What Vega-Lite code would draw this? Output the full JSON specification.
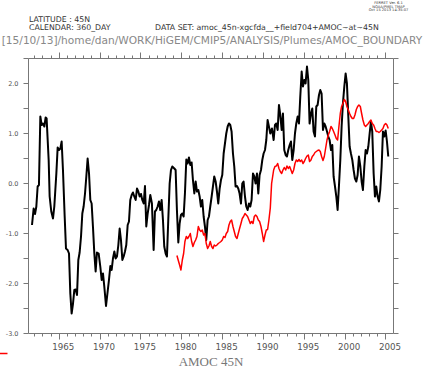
{
  "$schema": "https://vega.github.io/schema/vega-lite/v6.json",
  "width": 365,
  "height": 275,
  "autosize": "none",
  "padding": {"left": 28, "top": 58, "right": 35, "bottom": 41},
  "background": "white",
  "config": {
    "view": {"stroke": null},
    "axis": {"grid": false, "domainColor": "#777", "tickColor": "#777", "domainWidth": 1, "tickWidth": 1, "labelColor": "#555", "labelFont": "DejaVu Sans", "labelOverlap": false, "labelFlush": false}
  },
  "title": {
    "text": ["\u200b\u00a0\u00a0\u00a0\u00a0\u00a0\u00a0\u00a0\u00a0\u00a0\u00a0\u00a0LATITUDE : 45N", "\u200b\u00a0\u00a0\u00a0\u00a0\u00a0\u00a0\u00a0\u00a0\u00a0\u00a0\u00a0CALENDAR: 360_DAY\u00a0\u00a0\u00a0\u00a0\u00a0\u00a0\u00a0\u00a0\u00a0\u00a0\u00a0\u00a0\u00a0\u00a0\u00a0\u00a0\u00a0\u00a0DATA SET: amoc_45n-xgcfda__+field704+AMOC~at~45N"],
    "subtitle": "[15/10/13]/home/dan/WORK/HiGEM/CMIP5/ANALYSIS/Plumes/AMOC_BOUNDARY",
    "anchor": "start",
    "frame": "group",
    "dx": -26.3,
    "offset": -46,
    "font": "DejaVu Sans",
    "fontSize": 7.8,
    "fontWeight": "normal",
    "color": "#333",
    "lineHeight": 8.5,
    "subtitleFont": "DejaVu Sans",
    "subtitleFontSize": 10.6,
    "subtitleColor": "#888",
    "subtitlePadding": 4
  },
  "resolve": {"axis": {"x": "independent", "y": "independent"}},
  "layer": [
    {
      "data": {"values": [
        {"year": 1961.73, "value": -0.84}, {"year": 1961.93, "value": -0.51}, {"year": 1962.10, "value": -0.62}, {"year": 1962.26, "value": -0.47},
        {"year": 1962.42, "value": -0.07}, {"year": 1962.58, "value": -0.04}, {"year": 1962.75, "value": 1.33}, {"year": 1962.91, "value": 1.16},
        {"year": 1963.07, "value": 1.19}, {"year": 1963.24, "value": 1.13}, {"year": 1963.40, "value": 1.31}, {"year": 1963.52, "value": 1.29},
        {"year": 1963.77, "value": 0.46}, {"year": 1963.89, "value": -0.27}, {"year": 1964.09, "value": -0.57}, {"year": 1964.30, "value": -0.71},
        {"year": 1964.46, "value": -0.47}, {"year": 1964.71, "value": 0.19}, {"year": 1964.87, "value": 0.71}, {"year": 1965.03, "value": 0.66},
        {"year": 1965.20, "value": 0.69}, {"year": 1965.36, "value": 0.83}, {"year": 1965.52, "value": 0.26}, {"year": 1965.73, "value": -0.67},
        {"year": 1965.89, "value": -1.31}, {"year": 1966.09, "value": -1.34}, {"year": 1966.26, "value": -1.41}, {"year": 1966.42, "value": -2.21},
        {"year": 1966.58, "value": -2.61}, {"year": 1966.75, "value": -2.41}, {"year": 1966.91, "value": -2.14}, {"year": 1967.07, "value": -2.13},
        {"year": 1967.24, "value": -2.24}, {"year": 1967.40, "value": -1.54}, {"year": 1967.56, "value": -1.39}, {"year": 1967.73, "value": -1.07},
        {"year": 1967.89, "value": -0.61}, {"year": 1968.05, "value": -0.47}, {"year": 1968.22, "value": -0.21}, {"year": 1968.38, "value": 0.13},
        {"year": 1968.54, "value": 0.49}, {"year": 1968.71, "value": 0.19}, {"year": 1968.87, "value": -0.34}, {"year": 1969.03, "value": -0.41},
        {"year": 1969.19, "value": -0.87}, {"year": 1969.36, "value": -1.41}, {"year": 1969.52, "value": -1.77}, {"year": 1969.68, "value": -1.39},
        {"year": 1969.89, "value": -1.41}, {"year": 1970.09, "value": -1.67}, {"year": 1970.26, "value": -1.94}, {"year": 1970.42, "value": -1.81},
        {"year": 1970.58, "value": -2.07}, {"year": 1970.79, "value": -2.46}, {"year": 1970.99, "value": -2.17}, {"year": 1971.15, "value": -1.94},
        {"year": 1971.32, "value": -1.66}, {"year": 1971.48, "value": -1.74}, {"year": 1971.64, "value": -1.51}, {"year": 1971.81, "value": -1.37},
        {"year": 1971.97, "value": -1.51}, {"year": 1972.13, "value": -1.47}, {"year": 1972.30, "value": -1.24}, {"year": 1972.46, "value": -0.91},
        {"year": 1972.62, "value": -1.14}, {"year": 1972.79, "value": -1.54}, {"year": 1972.95, "value": -1.47}, {"year": 1973.11, "value": -1.37},
        {"year": 1973.27, "value": -1.24}, {"year": 1973.44, "value": -0.84}, {"year": 1973.60, "value": -0.77}, {"year": 1973.76, "value": -0.34},
        {"year": 1973.93, "value": -0.24}, {"year": 1974.09, "value": -0.19}, {"year": 1974.25, "value": -0.27}, {"year": 1974.42, "value": -0.34},
        {"year": 1974.58, "value": -0.11}, {"year": 1974.74, "value": -0.17}, {"year": 1974.91, "value": -0.27}, {"year": 1975.07, "value": -0.22},
        {"year": 1975.23, "value": -0.34}, {"year": 1975.40, "value": -0.41}, {"year": 1975.56, "value": -0.06}, {"year": 1975.72, "value": -0.87},
        {"year": 1975.89, "value": -0.61}, {"year": 1976.05, "value": -0.44}, {"year": 1976.21, "value": -0.24}, {"year": 1976.41, "value": -0.41},
        {"year": 1976.62, "value": -1.34}, {"year": 1976.78, "value": -0.57}, {"year": 1976.94, "value": -0.54}, {"year": 1977.11, "value": -0.47},
        {"year": 1977.27, "value": -0.37}, {"year": 1977.43, "value": -0.54}, {"year": 1977.60, "value": -0.34}, {"year": 1977.76, "value": -0.74},
        {"year": 1977.92, "value": -1.27}, {"year": 1978.09, "value": -1.41}, {"year": 1978.25, "value": -1.47}, {"year": 1978.41, "value": -0.74},
        {"year": 1978.58, "value": -0.01}, {"year": 1978.74, "value": 0.26}, {"year": 1978.90, "value": 0.33}, {"year": 1979.15, "value": 0.29},
        {"year": 1979.31, "value": 0.26}, {"year": 1979.47, "value": -0.54}, {"year": 1979.64, "value": -1.19}, {"year": 1979.80, "value": -0.81},
        {"year": 1979.96, "value": -0.64}, {"year": 1980.13, "value": -0.61}, {"year": 1980.29, "value": -0.67}, {"year": 1980.45, "value": -0.21},
        {"year": 1980.62, "value": 0.47}, {"year": 1980.78, "value": 0.39}, {"year": 1980.94, "value": 0.51}, {"year": 1981.11, "value": 0.36},
        {"year": 1981.27, "value": 0.41}, {"year": 1981.43, "value": 0.06}, {"year": 1981.60, "value": -0.21}, {"year": 1981.76, "value": 0.03},
        {"year": 1981.92, "value": -0.17}, {"year": 1982.09, "value": -0.14}, {"year": 1982.25, "value": -0.27}, {"year": 1982.41, "value": -0.47},
        {"year": 1982.57, "value": -0.34}, {"year": 1982.74, "value": -0.67}, {"year": 1982.90, "value": -0.87}, {"year": 1983.06, "value": -1.14},
        {"year": 1983.23, "value": -0.74}, {"year": 1983.39, "value": -0.67}, {"year": 1983.55, "value": -0.47}, {"year": 1983.72, "value": -0.27},
        {"year": 1983.88, "value": -0.07}, {"year": 1984.04, "value": 0.13}, {"year": 1984.21, "value": 0.03}, {"year": 1984.37, "value": -0.17},
        {"year": 1984.53, "value": -0.41}, {"year": 1984.70, "value": -0.11}, {"year": 1984.86, "value": 0.06}, {"year": 1985.02, "value": 0.16},
        {"year": 1985.19, "value": 0.59}, {"year": 1985.35, "value": 0.79}, {"year": 1985.51, "value": 0.99}, {"year": 1985.68, "value": 1.13},
        {"year": 1985.84, "value": 1.19}, {"year": 1986.00, "value": 1.16}, {"year": 1986.16, "value": 1.03}, {"year": 1986.33, "value": 0.59},
        {"year": 1986.49, "value": 0.33}, {"year": 1986.65, "value": -0.07}, {"year": 1986.82, "value": -0.06}, {"year": 1986.98, "value": -0.11},
        {"year": 1987.14, "value": -0.21}, {"year": 1987.31, "value": -0.41}, {"year": 1987.47, "value": -0.01}, {"year": 1987.63, "value": 0.03},
        {"year": 1987.80, "value": -0.27}, {"year": 1987.96, "value": -0.47}, {"year": 1988.12, "value": -0.54}, {"year": 1988.29, "value": -0.41},
        {"year": 1988.45, "value": -0.47}, {"year": 1988.61, "value": -0.34}, {"year": 1988.78, "value": 0.19}, {"year": 1988.94, "value": 0.13},
        {"year": 1989.10, "value": -0.01}, {"year": 1989.27, "value": 0.19}, {"year": 1989.43, "value": -0.21}, {"year": 1989.59, "value": 0.16},
        {"year": 1989.76, "value": 0.26}, {"year": 1989.92, "value": 0.46}, {"year": 1990.08, "value": 0.59}, {"year": 1990.25, "value": 0.66},
        {"year": 1990.41, "value": 0.86}, {"year": 1990.57, "value": 1.26}, {"year": 1990.73, "value": 1.13}, {"year": 1990.90, "value": 0.99},
        {"year": 1991.10, "value": 1.09}, {"year": 1991.31, "value": 0.86}, {"year": 1991.47, "value": 1.16}, {"year": 1991.63, "value": 1.19},
        {"year": 1991.80, "value": 1.06}, {"year": 1991.96, "value": 1.56}, {"year": 1992.12, "value": 1.36}, {"year": 1992.29, "value": 1.06},
        {"year": 1992.45, "value": 1.39}, {"year": 1992.61, "value": 0.66}, {"year": 1992.78, "value": 0.56}, {"year": 1992.94, "value": 0.53},
        {"year": 1993.10, "value": 0.66}, {"year": 1993.27, "value": 0.76}, {"year": 1993.43, "value": 0.83}, {"year": 1993.59, "value": 0.46},
        {"year": 1993.76, "value": 0.66}, {"year": 1993.92, "value": 0.99}, {"year": 1994.08, "value": 1.19}, {"year": 1994.25, "value": 1.33},
        {"year": 1994.41, "value": 1.19}, {"year": 1994.57, "value": 1.73}, {"year": 1994.74, "value": 2.23}, {"year": 1994.90, "value": 1.93},
        {"year": 1995.06, "value": 2.06}, {"year": 1995.22, "value": 1.99}, {"year": 1995.39, "value": 2.33}, {"year": 1995.55, "value": 2.06},
        {"year": 1995.71, "value": 1.19}, {"year": 1995.88, "value": 1.39}, {"year": 1996.04, "value": 1.49}, {"year": 1996.20, "value": 1.03},
        {"year": 1996.37, "value": 0.93}, {"year": 1996.53, "value": 1.53}, {"year": 1996.69, "value": 1.56}, {"year": 1996.86, "value": 1.76},
        {"year": 1997.02, "value": 1.86}, {"year": 1997.18, "value": 1.79}, {"year": 1997.35, "value": 1.06}, {"year": 1997.51, "value": 1.19},
        {"year": 1997.67, "value": 1.13}, {"year": 1997.84, "value": 1.03}, {"year": 1998.00, "value": 0.93}, {"year": 1998.16, "value": 0.86},
        {"year": 1998.33, "value": 0.66}, {"year": 1998.49, "value": 0.76}, {"year": 1998.65, "value": 0.13}, {"year": 1998.82, "value": -0.07},
        {"year": 1998.98, "value": -0.27}, {"year": 1999.14, "value": -0.54}, {"year": 1999.30, "value": -0.07}, {"year": 1999.47, "value": 0.46},
        {"year": 1999.63, "value": 1.13}, {"year": 1999.79, "value": 1.59}, {"year": 1999.96, "value": 1.93}, {"year": 2000.12, "value": 2.19},
        {"year": 2000.28, "value": 1.99}, {"year": 2000.45, "value": 1.33}, {"year": 2000.61, "value": 0.73}, {"year": 2000.77, "value": 0.59},
        {"year": 2000.94, "value": 0.46}, {"year": 2001.10, "value": 0.26}, {"year": 2001.26, "value": 0.09}, {"year": 2001.43, "value": 0.03},
        {"year": 2001.59, "value": 0.16}, {"year": 2001.75, "value": 0.53}, {"year": 2001.92, "value": 0.33}, {"year": 2002.08, "value": 0.03},
        {"year": 2002.24, "value": -0.14}, {"year": 2002.41, "value": 0.33}, {"year": 2002.57, "value": 0.66}, {"year": 2002.73, "value": 0.59},
        {"year": 2002.90, "value": 0.73}, {"year": 2003.06, "value": 0.99}, {"year": 2003.22, "value": 1.23}, {"year": 2003.38, "value": 1.03},
        {"year": 2003.55, "value": 0.19}, {"year": 2003.71, "value": -0.27}, {"year": 2003.87, "value": -0.07}, {"year": 2004.04, "value": -0.27},
        {"year": 2004.20, "value": -0.37}, {"year": 2004.36, "value": -0.14}, {"year": 2004.53, "value": 0.33}, {"year": 2004.69, "value": 1.03},
        {"year": 2004.85, "value": 0.93}, {"year": 2005.02, "value": 1.05}, {"year": 2005.18, "value": 0.83}, {"year": 2005.34, "value": 0.53}
      ]},
      "mark": {"type": "line", "color": "#000000", "strokeWidth": 2, "strokeJoin": "round", "clip": true},
      "encoding": {
        "x": {
          "field": "year", "type": "quantitative",
          "scale": {"domain": [1961.24, 2005.92], "nice": false, "zero": false},
          "axis": {
            "orient": "bottom",
            "values": [1962, 1963, 1964, 1965, 1966, 1967, 1968, 1969, 1970, 1971, 1972, 1973, 1974, 1975, 1976, 1977, 1978, 1979, 1980, 1981, 1982, 1983, 1984, 1985, 1986, 1987, 1988, 1989, 1990, 1991, 1992, 1993, 1994, 1995, 1996, 1997, 1998, 1999, 2000, 2001, 2002, 2003, 2004, 2005],
            "labelExpr": "datum.value % 5 === 0 ? '' + datum.value : ''",
            "tickSize": {"condition": {"test": "datum.value % 5 === 0", "value": 6}, "value": 3},
            "labelFontSize": 8.7,
            "labelPadding": 3,
            "labelOffset": 4,
            "title": "AMOC 45N",
            "titleFont": "Liberation Serif",
            "titleFontSize": 13,
            "titleFontWeight": "normal",
            "titleColor": "#777",
            "titlePadding": 5
          }
        },
        "y": {
          "field": "value", "type": "quantitative",
          "scale": {"domain": [-3, 2.5], "nice": false, "zero": false},
          "axis": {
            "orient": "left",
            "values": [-3, -2.5, -2, -1.5, -1, -0.5, 0, 0.5, 1, 1.5, 2, 2.5],
            "labelExpr": "datum.value % 1 === 0 ? (datum.value < 0 ? '-' : '') + format(abs(datum.value), '.1f') : ''",
            "tickSize": 5,
            "labelFontSize": 6.5,
            "labelPadding": 5,
            "title": null
          }
        }
      }
    },
    {
      "data": {"values": [
        {"year": 1979.47, "value": -1.45}, {"year": 1979.64, "value": -1.55}, {"year": 1979.80, "value": -1.64}, {"year": 1979.96, "value": -1.74},
        {"year": 1980.13, "value": -1.54}, {"year": 1980.29, "value": -1.41}, {"year": 1980.45, "value": -1.17}, {"year": 1980.62, "value": -1.07},
        {"year": 1980.78, "value": -1.11}, {"year": 1980.94, "value": -1.07}, {"year": 1981.11, "value": -1.01}, {"year": 1981.27, "value": -1.17},
        {"year": 1981.43, "value": -1.27}, {"year": 1981.60, "value": -1.19}, {"year": 1981.76, "value": -1.14}, {"year": 1981.92, "value": -1.07},
        {"year": 1982.09, "value": -0.87}, {"year": 1982.25, "value": -0.94}, {"year": 1982.41, "value": -0.97}, {"year": 1982.57, "value": -0.94},
        {"year": 1982.74, "value": -1.04}, {"year": 1982.90, "value": -1.01}, {"year": 1983.06, "value": -1.21}, {"year": 1983.23, "value": -1.31},
        {"year": 1983.39, "value": -1.26}, {"year": 1983.55, "value": -1.17}, {"year": 1983.72, "value": -1.27}, {"year": 1983.88, "value": -1.31},
        {"year": 1984.04, "value": -1.24}, {"year": 1984.21, "value": -1.26}, {"year": 1984.37, "value": -1.24}, {"year": 1984.53, "value": -1.21},
        {"year": 1984.70, "value": -1.19}, {"year": 1984.86, "value": -1.17}, {"year": 1985.02, "value": -1.14}, {"year": 1985.19, "value": -1.07},
        {"year": 1985.35, "value": -1.09}, {"year": 1985.51, "value": -1.01}, {"year": 1985.68, "value": -0.97}, {"year": 1985.84, "value": -0.84},
        {"year": 1986.00, "value": -0.77}, {"year": 1986.16, "value": -0.74}, {"year": 1986.33, "value": -0.87}, {"year": 1986.49, "value": -0.97},
        {"year": 1986.65, "value": -1.07}, {"year": 1986.82, "value": -1.11}, {"year": 1986.98, "value": -1.01}, {"year": 1987.14, "value": -0.91},
        {"year": 1987.31, "value": -0.81}, {"year": 1987.47, "value": -0.71}, {"year": 1987.63, "value": -0.67}, {"year": 1987.80, "value": -0.61},
        {"year": 1987.96, "value": -0.64}, {"year": 1988.12, "value": -0.67}, {"year": 1988.29, "value": -0.74}, {"year": 1988.45, "value": -0.81},
        {"year": 1988.61, "value": -0.77}, {"year": 1988.78, "value": -0.81}, {"year": 1988.94, "value": -0.67}, {"year": 1989.10, "value": -0.64},
        {"year": 1989.27, "value": -0.67}, {"year": 1989.43, "value": -0.74}, {"year": 1989.59, "value": -0.77}, {"year": 1989.76, "value": -0.87},
        {"year": 1989.92, "value": -1.01}, {"year": 1990.08, "value": -1.17}, {"year": 1990.25, "value": -1.04}, {"year": 1990.41, "value": -0.94},
        {"year": 1990.57, "value": -0.93}, {"year": 1990.73, "value": -0.74}, {"year": 1990.90, "value": -0.5}, {"year": 1991.06, "value": -0.01},
        {"year": 1991.31, "value": 0.26}, {"year": 1991.47, "value": 0.33}, {"year": 1991.63, "value": 0.34}, {"year": 1991.80, "value": 0.39},
        {"year": 1991.96, "value": 0.29}, {"year": 1992.12, "value": 0.23}, {"year": 1992.29, "value": 0.19}, {"year": 1992.45, "value": 0.26},
        {"year": 1992.61, "value": 0.31}, {"year": 1992.78, "value": 0.26}, {"year": 1992.94, "value": 0.34}, {"year": 1993.10, "value": 0.29},
        {"year": 1993.27, "value": 0.33}, {"year": 1993.43, "value": 0.26}, {"year": 1993.59, "value": 0.19}, {"year": 1993.76, "value": 0.26},
        {"year": 1993.92, "value": 0.39}, {"year": 1994.08, "value": 0.46}, {"year": 1994.25, "value": 0.43}, {"year": 1994.41, "value": 0.47},
        {"year": 1994.57, "value": 0.43}, {"year": 1994.74, "value": 0.46}, {"year": 1994.90, "value": 0.39}, {"year": 1995.06, "value": 0.43},
        {"year": 1995.22, "value": 0.49}, {"year": 1995.39, "value": 0.54}, {"year": 1995.55, "value": 0.56}, {"year": 1995.71, "value": 0.43},
        {"year": 1995.88, "value": 0.46}, {"year": 1996.04, "value": 0.53}, {"year": 1996.20, "value": 0.56}, {"year": 1996.37, "value": 0.61},
        {"year": 1996.53, "value": 0.63}, {"year": 1996.69, "value": 0.65}, {"year": 1996.86, "value": 0.66}, {"year": 1997.02, "value": 0.63},
        {"year": 1997.18, "value": 0.53}, {"year": 1997.35, "value": 0.45}, {"year": 1997.51, "value": 0.53}, {"year": 1997.67, "value": 0.69},
        {"year": 1997.84, "value": 0.86}, {"year": 1998.00, "value": 0.96}, {"year": 1998.16, "value": 1.03}, {"year": 1998.33, "value": 1.13},
        {"year": 1998.49, "value": 1.09}, {"year": 1998.65, "value": 1.03}, {"year": 1998.82, "value": 0.96}, {"year": 1998.98, "value": 0.89},
        {"year": 1999.14, "value": 0.86}, {"year": 1999.30, "value": 1.13}, {"year": 1999.47, "value": 1.39}, {"year": 1999.63, "value": 1.53},
        {"year": 1999.79, "value": 1.59}, {"year": 1999.96, "value": 1.67}, {"year": 2000.12, "value": 1.63}, {"year": 2000.28, "value": 1.53},
        {"year": 2000.45, "value": 1.46}, {"year": 2000.61, "value": 1.39}, {"year": 2000.77, "value": 1.33}, {"year": 2000.94, "value": 1.29},
        {"year": 2001.10, "value": 1.29}, {"year": 2001.26, "value": 1.36}, {"year": 2001.43, "value": 1.47}, {"year": 2001.59, "value": 1.53},
        {"year": 2001.75, "value": 1.56}, {"year": 2001.92, "value": 1.53}, {"year": 2002.08, "value": 1.39}, {"year": 2002.24, "value": 1.26},
        {"year": 2002.41, "value": 1.16}, {"year": 2002.57, "value": 1.13}, {"year": 2002.73, "value": 1.16}, {"year": 2002.90, "value": 1.19},
        {"year": 2003.06, "value": 1.23}, {"year": 2003.22, "value": 1.26}, {"year": 2003.38, "value": 1.19}, {"year": 2003.55, "value": 1.16},
        {"year": 2003.71, "value": 1.09}, {"year": 2003.87, "value": 1.03}, {"year": 2004.04, "value": 1.03}, {"year": 2004.20, "value": 1.01},
        {"year": 2004.36, "value": 1.03}, {"year": 2004.53, "value": 1.06}, {"year": 2004.69, "value": 1.09}, {"year": 2004.85, "value": 1.16},
        {"year": 2005.02, "value": 1.19}, {"year": 2005.18, "value": 1.16}, {"year": 2005.34, "value": 1.09}
      ]},
      "mark": {"type": "line", "color": "#ff0000", "strokeWidth": 1.5, "strokeJoin": "round", "clip": true},
      "encoding": {
        "x": {
          "field": "year", "type": "quantitative",
          "scale": {"domain": [1961.24, 2005.92], "nice": false, "zero": false},
          "axis": {
            "orient": "top",
            "values": [1962, 1963, 1964, 1965, 1966, 1967, 1968, 1969, 1970, 1971, 1972, 1973, 1974, 1975, 1976, 1977, 1978, 1979, 1980, 1981, 1982, 1983, 1984, 1985, 1986, 1987, 1988, 1989, 1990, 1991, 1992, 1993, 1994, 1995, 1996, 1997, 1998, 1999, 2000, 2001, 2002, 2003, 2004, 2005],
            "labels": false,
            "tickSize": {"condition": {"test": "datum.value % 5 === 0", "value": 6}, "value": 3},
            "title": null
          }
        },
        "y": {
          "field": "value", "type": "quantitative",
          "scale": {"domain": [-3, 2.5], "nice": false, "zero": false},
          "axis": {
            "orient": "right",
            "values": [-3, -2.5, -2, -1.5, -1, -0.5, 0, 0.5, 1, 1.5, 2, 2.5],
            "labels": false,
            "tickSize": 5,
            "title": ["FERRET Ver. 6.1", "NOAA/PMEL TMAP", "Oct 15 2013 14:35:07"],
            "titleAngle": 0,
            "titleAlign": "center",
            "titleBaseline": "top",
            "titleX": -5,
            "titleY": -57.5,
            "titleFont": "DejaVu Sans",
            "titleFontSize": 3.6,
            "titleFontWeight": "normal",
            "titleColor": "#333",
            "titleLineHeight": 3.7
          }
        }
      }
    },
    {
      "data": {"values": [{"start": 1957.81, "end": 1958.73, "value": -3.41}]},
      "mark": {"type": "rule", "color": "#ff0000", "strokeWidth": 1.5, "clip": false},
      "encoding": {
        "x": {"field": "start", "type": "quantitative", "axis": null},
        "x2": {"field": "end"},
        "y": {"field": "value", "type": "quantitative", "axis": null}
      }
    }
  ]
}
